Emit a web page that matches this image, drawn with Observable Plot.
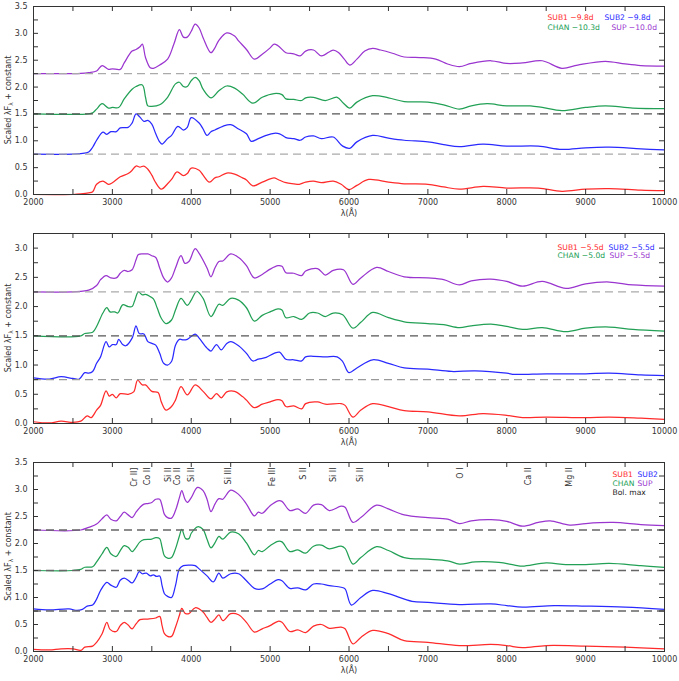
<!DOCTYPE html>
<html><head><meta charset="utf-8">
<script src="https://cdn.jsdelivr.net/npm/d3@7"></script>
<script src="https://cdn.jsdelivr.net/npm/@observablehq/plot@0.6"></script>
<style>body{margin:0;background:#fff;} #chart svg{display:block;}</style>
</head><body><div id="chart"></div>
<script>
// ---------- data (wavelength in Å, scaled flux + constant) ----------
const seriesNames = ["SUB1", "SUB2", "CHAN", "SUP"];
const offsets = [0.75, 1.5, 2.25];
const xTickLabels = [2000, 3000, 4000, 5000, 6000, 7000, 8000, 9000, 10000];

// Panel 1 (~ -10 d)
const p1_SUP = [[2000,2.25],[2500,2.25],[2600,2.255],[2700,2.27],[2800,2.30],[2870,2.40],[2950,2.33],[3000,2.34],[3100,2.33],[3150,2.45],[3250,2.67],[3300,2.70],[3350,2.75],[3380,2.80],[3420,2.55],[3480,2.36],[3520,2.35],[3600,2.41],[3700,2.52],[3780,2.80],[3850,3.07],[3900,2.93],[3950,2.93],[4000,3.04],[4050,3.17],[4100,3.10],[4150,2.92],[4250,2.64],[4300,2.73],[4350,2.87],[4450,3.01],[4550,2.95],[4600,2.86],[4700,2.70],[4800,2.52],[4900,2.61],[5000,2.73],[5050,2.80],[5100,2.77],[5200,2.64],[5300,2.62],[5380,2.58],[5450,2.67],[5550,2.69],[5650,2.58],[5800,2.69],[5870,2.64],[5940,2.52],[6010,2.41],[6100,2.52],[6200,2.67],[6300,2.72],[6400,2.69],[6550,2.63],[6700,2.56],[6900,2.55],[7100,2.52],[7250,2.43],[7400,2.38],[7550,2.44],[7800,2.49],[8000,2.44],[8200,2.45],[8450,2.49],[8700,2.35],[8900,2.41],[9250,2.48],[9500,2.43],[9700,2.40],[10000,2.39]];
const p1_CHAN = [[2000,1.5],[2700,1.5],[2750,1.52],[2800,1.59],[2870,1.69],[2950,1.61],[3000,1.62],[3080,1.62],[3150,1.78],[3250,1.96],[3300,2.01],[3380,2.04],[3420,1.81],[3450,1.65],[3500,1.64],[3600,1.67],[3700,1.81],[3800,2.06],[3850,2.09],[3900,2.01],[3950,2.01],[4000,2.12],[4050,2.18],[4100,2.12],[4150,1.96],[4250,1.80],[4350,1.93],[4450,2.02],[4550,1.98],[4650,1.87],[4780,1.70],[4900,1.81],[5050,1.88],[5150,1.86],[5200,1.78],[5300,1.77],[5400,1.75],[5450,1.80],[5550,1.81],[5700,1.75],[5850,1.81],[5930,1.70],[6010,1.61],[6100,1.72],[6300,1.84],[6500,1.80],[6700,1.73],[7000,1.72],[7200,1.67],[7400,1.59],[7550,1.65],[7750,1.69],[8000,1.65],[8300,1.65],[8450,1.62],[8700,1.56],[9000,1.62],[9250,1.65],[9600,1.61],[10000,1.60]];
const p1_SUB2 = [[2000,0.75],[2500,0.75],[2600,0.76],[2700,0.79],[2750,0.88],[2800,1.01],[2880,1.16],[2930,1.12],[2980,1.17],[3050,1.17],[3100,1.24],[3200,1.25],[3250,1.33],[3300,1.50],[3350,1.44],[3400,1.36],[3450,1.38],[3500,1.31],[3550,1.13],[3600,0.98],[3630,0.94],[3700,1.04],[3750,1.10],[3830,1.27],[3900,1.20],[3950,1.25],[4000,1.43],[4100,1.33],[4150,1.22],[4200,1.10],[4250,1.17],[4300,1.20],[4400,1.27],[4500,1.30],[4600,1.22],[4700,1.13],[4760,0.99],[4850,1.04],[4950,1.10],[5050,1.14],[5120,1.13],[5200,1.06],[5300,1.04],[5380,1.01],[5450,1.07],[5550,1.09],[5650,1.04],[5800,1.07],[5920,0.90],[6010,0.86],[6100,0.98],[6300,1.10],[6500,1.05],[6700,1.01],[7000,0.98],[7200,0.93],[7400,0.89],[7700,0.94],[8000,0.90],[8400,0.90],[8700,0.84],[9000,0.87],[9300,0.88],[9700,0.85],[10000,0.83]];
const p1_SUB1 = [[2000,0],[2500,0],[2600,0.01],[2700,0.03],[2750,0.05],[2800,0.19],[2880,0.25],[2950,0.19],[3000,0.22],[3100,0.33],[3200,0.39],[3250,0.45],[3300,0.53],[3350,0.51],[3400,0.53],[3450,0.47],[3500,0.36],[3550,0.22],[3620,0.10],[3700,0.20],[3750,0.28],[3820,0.42],[3900,0.35],[3950,0.39],[4000,0.49],[4100,0.45],[4150,0.36],[4230,0.23],[4300,0.31],[4350,0.33],[4450,0.40],[4550,0.38],[4650,0.31],[4700,0.27],[4780,0.16],[4900,0.23],[5050,0.31],[5100,0.28],[5200,0.22],[5300,0.20],[5370,0.19],[5450,0.23],[5550,0.25],[5650,0.22],[5800,0.25],[5900,0.19],[6000,0.09],[6100,0.17],[6250,0.28],[6500,0.23],[6700,0.20],[7000,0.19],[7200,0.14],[7400,0.10],[7700,0.15],[8000,0.12],[8400,0.12],[8700,0.06],[9000,0.10],[9300,0.11],[9700,0.08],[10000,0.07]];
const p1_legend = ["SUB1 \u22129.8d", "SUB2 \u22129.8d", "CHAN \u221210.3d", "SUP \u221210.0d"];

// Panel 2 (~ -5 d)
const p2_SUP = [[2000,2.25],[2500,2.25],[2600,2.26],[2700,2.28],[2800,2.36],[2850,2.46],[2920,2.53],[2980,2.49],[3050,2.49],[3100,2.57],[3150,2.62],[3200,2.60],[3250,2.63],[3300,2.80],[3330,2.89],[3400,2.90],[3450,2.90],[3500,2.87],[3550,2.84],[3600,2.66],[3650,2.49],[3700,2.42],[3750,2.49],[3800,2.66],[3870,2.87],[3920,2.74],[3970,2.77],[4050,2.99],[4100,2.91],[4200,2.66],[4250,2.51],[4300,2.66],[4350,2.77],[4400,2.78],[4500,2.90],[4600,2.84],[4700,2.70],[4800,2.49],[4900,2.55],[5000,2.64],[5100,2.70],[5150,2.69],[5200,2.58],[5300,2.57],[5400,2.53],[5450,2.61],[5600,2.65],[5700,2.54],[5800,2.62],[5930,2.63],[6050,2.38],[6150,2.49],[6350,2.67],[6500,2.60],[6700,2.51],[7000,2.49],[7200,2.46],[7400,2.37],[7550,2.44],[7800,2.47],[8000,2.43],[8200,2.35],[8450,2.43],[8750,2.31],[9000,2.39],[9300,2.42],[9600,2.37],[10000,2.35]];
const p2_CHAN = [[2000,1.5],[2600,1.5],[2650,1.54],[2750,1.56],[2800,1.66],[2880,1.89],[2930,1.98],[2970,1.91],[3030,1.91],[3070,1.89],[3130,2.03],[3200,2.00],[3250,2.00],[3280,2.09],[3330,2.25],[3380,2.20],[3420,2.21],[3480,2.17],[3520,2.13],[3570,1.97],[3620,1.80],[3680,1.71],[3750,1.77],[3800,1.94],[3870,2.14],[3950,2.02],[4000,2.11],[4070,2.26],[4150,2.14],[4250,1.83],[4350,2.04],[4400,2.02],[4500,2.14],[4600,2.11],[4700,1.98],[4800,1.75],[4900,1.85],[5000,1.91],[5100,1.96],[5150,1.94],[5200,1.81],[5300,1.83],[5400,1.78],[5500,1.89],[5600,1.89],[5700,1.83],[5800,1.89],[5920,1.86],[6050,1.63],[6150,1.73],[6300,1.90],[6500,1.81],[6700,1.74],[7000,1.71],[7200,1.69],[7400,1.64],[7550,1.67],[7800,1.70],[8000,1.66],[8200,1.61],[8450,1.64],[8750,1.57],[9000,1.63],[9300,1.65],[9600,1.61],[10000,1.58]];
const p2_SUB2 = [[2000,0.78],[2200,0.76],[2350,0.80],[2500,0.77],[2580,0.76],[2650,0.87],[2700,0.86],[2750,0.89],[2800,1.03],[2850,1.14],[2920,1.40],[2960,1.31],[3000,1.35],[3050,1.35],[3080,1.44],[3130,1.35],[3170,1.33],[3250,1.46],[3300,1.67],[3340,1.54],[3400,1.53],[3450,1.40],[3500,1.37],[3550,1.34],[3600,1.20],[3650,1.03],[3700,1.00],[3750,1.06],[3800,1.34],[3850,1.44],[3900,1.43],[3950,1.44],[4050,1.53],[4100,1.46],[4200,1.29],[4250,1.24],[4320,1.35],[4380,1.26],[4450,1.37],[4500,1.40],[4600,1.33],[4700,1.20],[4780,1.07],[4850,1.10],[4950,1.13],[5050,1.20],[5120,1.22],[5200,1.10],[5300,1.09],[5400,1.07],[5450,1.14],[5550,1.15],[5700,1.14],[5850,1.14],[5920,1.06],[6000,0.87],[6100,0.95],[6300,1.09],[6500,1.03],[6700,0.95],[7000,0.93],[7300,0.89],[7600,0.90],[8000,0.86],[8100,0.84],[8500,0.85],[9000,0.85],[9300,0.86],[9700,0.83],[10000,0.82]];
const p2_SUB1 = [[2000,0.03],[2200,0.01],[2350,0.04],[2500,0.02],[2600,0.04],[2680,0.13],[2730,0.10],[2800,0.23],[2850,0.31],[2920,0.56],[2960,0.47],[3000,0.50],[3050,0.44],[3100,0.51],[3200,0.50],[3270,0.54],[3320,0.74],[3380,0.66],[3420,0.66],[3500,0.55],[3580,0.53],[3620,0.37],[3680,0.23],[3750,0.29],[3800,0.40],[3870,0.63],[3950,0.49],[4050,0.66],[4150,0.55],[4250,0.42],[4320,0.51],[4380,0.44],[4450,0.54],[4550,0.55],[4650,0.46],[4700,0.40],[4800,0.27],[4900,0.33],[5000,0.37],[5100,0.41],[5150,0.39],[5200,0.29],[5300,0.30],[5400,0.25],[5450,0.34],[5600,0.37],[5700,0.33],[5900,0.34],[5950,0.31],[6050,0.11],[6150,0.23],[6300,0.34],[6500,0.29],[6700,0.22],[7000,0.20],[7400,0.13],[7700,0.17],[8000,0.14],[8200,0.10],[8500,0.11],[9000,0.10],[9300,0.11],[9700,0.09],[10000,0.07]];
const p2_legend = ["SUB1 \u22125.5d", "SUB2 \u22125.5d", "CHAN \u22125.0d", "SUP \u22125.5d"];

// Panel 3 (bolometric maximum)
const p3_SUP = [[2000,2.25],[2600,2.25],[2700,2.30],[2800,2.36],[2870,2.46],[2930,2.53],[2980,2.45],[3050,2.42],[3100,2.50],[3150,2.58],[3200,2.53],[3250,2.48],[3300,2.58],[3350,2.67],[3400,2.73],[3450,2.74],[3500,2.76],[3550,2.82],[3600,2.82],[3630,2.70],[3660,2.54],[3700,2.48],[3750,2.47],[3800,2.61],[3850,2.85],[3880,2.98],[3920,2.82],[3950,2.76],[4000,2.85],[4080,3.04],[4150,2.98],[4200,2.82],[4250,2.59],[4300,2.73],[4350,2.83],[4400,2.82],[4500,2.99],[4600,2.91],[4700,2.73],[4800,2.51],[4850,2.58],[4900,2.56],[5000,2.70],[5100,2.79],[5150,2.78],[5250,2.61],[5350,2.64],[5450,2.56],[5550,2.71],[5650,2.72],[5750,2.61],[5900,2.69],[5950,2.67],[6050,2.39],[6150,2.48],[6350,2.71],[6500,2.64],[6700,2.53],[7000,2.48],[7250,2.45],[7400,2.37],[7550,2.42],[7800,2.44],[8000,2.41],[8200,2.32],[8400,2.39],[8550,2.42],[8800,2.34],[9000,2.37],[9350,2.39],[9700,2.35],[10000,2.33]];
const p3_CHAN = [[2000,1.5],[2500,1.5],[2600,1.52],[2650,1.56],[2750,1.57],[2800,1.66],[2870,1.81],[2930,1.93],[2980,1.81],[3050,1.76],[3100,1.87],[3150,1.96],[3200,1.93],[3250,1.85],[3300,1.93],[3350,2.03],[3400,2.07],[3500,2.08],[3550,2.11],[3600,2.09],[3630,1.93],[3660,1.77],[3700,1.73],[3750,1.74],[3800,1.90],[3850,2.14],[3880,2.26],[3930,2.09],[3970,2.09],[4000,2.19],[4080,2.31],[4150,2.26],[4200,2.08],[4250,1.92],[4300,2.01],[4350,2.13],[4400,2.08],[4500,2.21],[4600,2.18],[4700,2.01],[4800,1.79],[4850,1.87],[4900,1.85],[5000,1.96],[5100,2.04],[5150,2.03],[5250,1.85],[5350,1.88],[5450,1.82],[5550,1.95],[5650,1.97],[5750,1.90],[5900,1.95],[5950,1.91],[6050,1.62],[6150,1.74],[6350,1.94],[6500,1.87],[6700,1.74],[7000,1.71],[7250,1.68],[7400,1.62],[7600,1.66],[7900,1.65],[8100,1.60],[8200,1.58],[8500,1.64],[8750,1.61],[9000,1.61],[9300,1.63],[9700,1.59],[10000,1.56]];
const p3_SUB2 = [[2000,0.79],[2200,0.77],[2450,0.79],[2550,0.76],[2620,0.78],[2680,0.84],[2750,0.86],[2800,0.97],[2850,1.13],[2930,1.28],[2980,1.23],[3050,1.19],[3100,1.32],[3150,1.36],[3200,1.32],[3250,1.27],[3300,1.37],[3340,1.48],[3380,1.44],[3430,1.45],[3480,1.40],[3520,1.42],[3560,1.39],[3600,1.40],[3630,1.22],[3660,1.07],[3700,1.02],[3750,1.00],[3800,1.22],[3850,1.53],[3900,1.59],[4000,1.60],[4050,1.59],[4100,1.53],[4200,1.40],[4280,1.29],[4350,1.45],[4400,1.36],[4500,1.44],[4600,1.44],[4700,1.31],[4800,1.17],[4900,1.16],[5000,1.25],[5100,1.33],[5150,1.31],[5250,1.17],[5350,1.18],[5450,1.14],[5550,1.25],[5650,1.25],[5750,1.22],[5900,1.19],[5950,1.16],[6030,0.86],[6150,1.00],[6300,1.13],[6500,1.07],[6800,0.93],[7000,0.91],[7400,0.87],[7800,0.88],[8000,0.85],[8200,0.82],[8600,0.85],[9000,0.84],[9500,0.82],[10000,0.78]];
const p3_SUB1 = [[2000,0.04],[2200,0.03],[2350,0.05],[2500,0.05],[2600,0.02],[2650,0.08],[2750,0.10],[2800,0.17],[2870,0.33],[2930,0.54],[2970,0.41],[3050,0.37],[3100,0.48],[3150,0.54],[3200,0.49],[3250,0.42],[3300,0.51],[3350,0.59],[3450,0.60],[3550,0.62],[3600,0.65],[3630,0.48],[3660,0.33],[3700,0.28],[3750,0.28],[3800,0.45],[3850,0.67],[3880,0.80],[3920,0.71],[3970,0.70],[4050,0.81],[4150,0.73],[4200,0.63],[4250,0.54],[4300,0.60],[4350,0.68],[4400,0.57],[4500,0.70],[4600,0.68],[4700,0.54],[4800,0.36],[4900,0.42],[5000,0.48],[5100,0.56],[5150,0.54],[5250,0.37],[5350,0.40],[5450,0.35],[5550,0.47],[5650,0.50],[5750,0.43],[5900,0.45],[5950,0.42],[6050,0.14],[6150,0.26],[6300,0.39],[6500,0.33],[6700,0.20],[7000,0.17],[7400,0.11],[7800,0.13],[8000,0.11],[8200,0.07],[8500,0.11],[9000,0.10],[9500,0.08],[10000,0.05]];
const p3_legend = ["SUB1", "SUB2", "CHAN", "SUP", "Bol. max"];
const lineIdWavelengths = [3238, 3403, 3669, 3783, 3965, 4429, 4991, 5380, 5760, 6106, 7374, 8233, 8761];
const lineIdLabels = ["Cr II]", "Co II", "Si II", "Co II", "Si II", "Si III", "Fe III", "S II", "Si II", "Si II", "O I", "Ca II", "Mg II"];

// ---------- styling ----------
const colors = {SUB1: "#ff2a2a", SUB2: "#2a2aff", CHAN: "#22a055", SUP: "#9a35cf", "Bol. max": "#222"};
const FONT = "'DejaVu Sans', 'Liberation Sans', sans-serif";
const FS = 8, LFS = 7.6;
const W = 679, ML = 33, MR = 15;

function panel(cfg) {
  const innerH = cfg.height - cfg.marginTop - cfg.marginBottom;
  const innerW = W - ML - MR;
  const marks = [];
  cfg.series.forEach((data, i) => {
    marks.push(Plot.line(data, {x: d => d[0], y: d => d[1], stroke: colors[seriesNames[i]], strokeWidth: 1.25, curve: "catmull-rom"}));
  });
  offsets.forEach((o, i) => {
    marks.push(Plot.ruleY([o], {stroke: cfg.dashColors[i], strokeWidth: 1.3, strokeDasharray: "8,5"}));
  });
  marks.push(Plot.frame({stroke: "#333", strokeWidth: 1}));
  const xt = d3.range(2000, 10001, 500);
  const yt = d3.range(0, cfg.yMax + 1e-9, 0.25);
  marks.push(Plot.tickX(xt, {x: d => d, insetTop: innerH - 5, stroke: "#333"}));
  marks.push(Plot.tickX(xt, {x: d => d, insetBottom: innerH - 5, stroke: "#333"}));
  marks.push(Plot.tickY(yt, {y: d => d, insetRight: innerW - 5, stroke: "#333"}));
  marks.push(Plot.tickY(yt, {y: d => d, insetLeft: innerW - 5, stroke: "#333"}));
  marks.push(Plot.axisX({ticks: xTickLabels, tickSize: 0, tickPadding: 5, tickFormat: d => String(d), label: null, fill: "#333", fontSize: FS}));
  marks.push(Plot.axisY({ticks: d3.range(0, cfg.yMax + 1e-9, 0.5), tickSize: 0, tickPadding: 6, tickFormat: d3.format(".1f"), label: null, fill: "#333", fontSize: FS}));
  marks.push(Plot.text(["\u03bb(\u00c5)"], {frameAnchor: "bottom", dy: 21, fill: "#333", fontSize: FS}));
  cfg.legend.forEach((lab, i) => {
    const pos = cfg.legendPos[i];
    const key = lab.split(" ")[0] === "Bol." ? "Bol. max" : lab.split(" ")[0];
    marks.push(Plot.text([lab], {frameAnchor: "top-right", dx: pos[0], dy: pos[1], textAnchor: "start", fill: colors[key], fontSize: LFS}));
  });
  if (cfg.lineIds) {
    const ids = lineIdWavelengths.map((w, i) => ({w, label: lineIdLabels[i]}));
    marks.push(Plot.text(ids, {x: "w", text: "label", frameAnchor: "top", dy: 5, rotate: -90, textAnchor: "end", fill: "#333", fontSize: FS}));
  }
  const svg = Plot.plot({
    width: W, height: cfg.height,
    marginLeft: ML, marginRight: MR, marginTop: cfg.marginTop, marginBottom: cfg.marginBottom,
    x: {domain: [2000, 10000]},
    y: {domain: [0, cfg.yMax]},
    style: {fontFamily: FONT, fontSize: FS + "px", background: "white", color: "#333"},
    marks
  });
  const cy = cfg.marginTop + innerH / 2;
  const t = d3.select(svg).append("text")
    .attr("transform", `translate(8,${cy}) rotate(-90)`)
    .attr("text-anchor", "middle").attr("dominant-baseline", "middle")
    .attr("fill", "#333").attr("font-size", FS).attr("font-family", FONT);
  t.append("tspan").text("Scaled \u03bbF");
  t.append("tspan").attr("dy", 2.5).attr("font-size", 6).text("\u03bb");
  t.append("tspan").attr("dy", -2.5).text(" + constant");
  return svg;
}

const chart = document.getElementById("chart");
chart.append(panel({
  series: [p1_SUB1, p1_SUB2, p1_CHAN, p1_SUP], yMax: 3.5,
  height: 228, marginTop: 6, marginBottom: 34,
  dashColors: ["#aaa", "#555", "#aaa"],
  legend: p1_legend,
  legendPos: [[-117, 8], [-60, 8], [-117, 18], [-53, 18]]
}));
chart.append(panel({
  series: [p2_SUB1, p2_SUB2, p2_CHAN, p2_SUP], yMax: 3.25,
  height: 228, marginTop: 5, marginBottom: 33,
  dashColors: ["#999", "#555", "#aaa"],
  legend: p2_legend,
  legendPos: [[-107, 11], [-56, 11], [-107, 19.5], [-55, 19.5]]
}));
chart.append(panel({
  series: [p3_SUB1, p3_SUB2, p3_CHAN, p3_SUP], yMax: 3.5,
  height: 225, marginTop: 6, marginBottom: 30,
  dashColors: ["#666", "#666", "#666"],
  legend: p3_legend,
  legendPos: [[-52, 9], [-27, 9], [-52, 18], [-27, 18], [-52, 27]],
  lineIds: true
}));
</script></body></html>
